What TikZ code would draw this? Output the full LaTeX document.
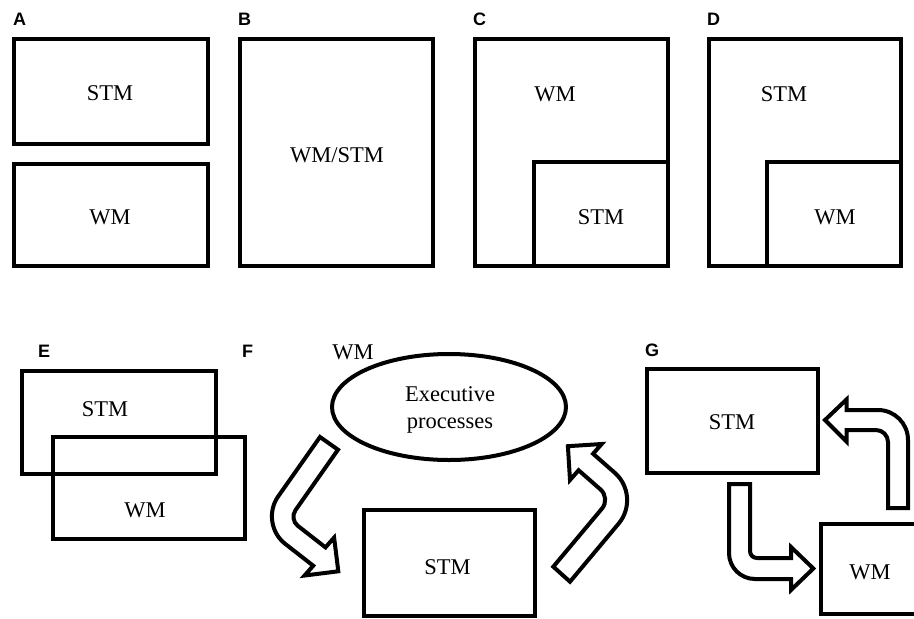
\documentclass[tikz,border=0pt]{standalone}
\usepackage{fontspec}
\setmainfont{Liberation Serif}
\newfontfamily\panelfont{Liberation Sans}
\usetikzlibrary{calc,shapes.geometric}
\begin{document}
\begin{tikzpicture}[x=1pt,y=-1pt,
  frame/.style={draw=black,line width=4pt},
  barrow/.style={draw=black,fill=white,line width=4pt,line join=miter,miter limit=10},
  lbl/.style={font=\fontsize{22.5}{26}\selectfont,inner sep=0pt},
  panel/.style={font=\panelfont\bfseries\fontsize{18}{20}\selectfont,anchor=base west,inner sep=0pt}]
\fill[white] (0,0) rectangle (914,619);
\useasboundingbox (0,0) rectangle (914,619);

% panel letters
\node[panel] (pA) at (13,25) {A};
\node[panel] (pB) at (238,25) {B};
\node[panel] (pC) at (473,25) {C};
\node[panel] (pD) at (707,25) {D};
\node[panel] (pE) at (38,357) {E};
\node[panel] (pF) at (242,357) {F};
\node[panel] (pG) at (645,356) {G};

% A
\draw[frame] (14,39) rectangle (208,144);
\draw[frame] (14,164) rectangle (208,266);
\node[lbl] (a1) at (110,93) {STM};
\node[lbl] (a2) at (110,217) {WM};

% B
\draw[frame] (240,39) rectangle (433,266);
\node[lbl] (b1) at (337,155) {WM/STM};

% C
\draw[frame] (475,39) rectangle (668,266);
\draw[frame] (534,266) -- (534,162) -- (668,162);
\node[lbl] (c1) at (555,94) {WM};
\node[lbl] (c2) at (601,217) {STM};

% D
\draw[frame] (709,39) rectangle (901,266);
\draw[frame] (767,266) -- (767,162) -- (901,162);
\node[lbl] (d1) at (784,94) {STM};
\node[lbl] (d2) at (835,217) {WM};

% E
\draw[frame] (22,371) rectangle (216,474);
\draw[frame] (53,437) rectangle (245,539);
\node[lbl] (e1) at (105,409) {STM};
\node[lbl] (e2) at (145,510) {WM};

% F
\node[lbl] (fwm) at (353,352) {WM};
\node[draw=black,line width=4pt,ellipse,minimum width=234pt,minimum height=106pt,inner sep=0pt] (exec) at (449,407) {};
\node[lbl,anchor=base] (f1) at (450,401.7) {Executive};
\node[lbl,anchor=base] (f2) at (450,428.3) {processes};
\draw[frame] (364,510) rectangle (535,616);
\node[lbl] (fstm) at (447.5,566.7) {STM};

% F left arrow
\coordinate (flTO) at (320,437);
\coordinate (flTI) at (338,449.7);
\coordinate (flO) at (259.1,523.5);
\coordinate (flOS) at (313.2,565.7);
\coordinate (flHO) at (304.6,575.5);
\coordinate (flTP) at (338.3,571.3);
\coordinate (flHI) at (334.1,537.6);
\coordinate (flIS) at (325.5,547.4);
\coordinate (flI) at (289.2,519.1);
\draw[barrow] (flTI) -- (flTO) -- ($(flO)!33pt!(flTO)$) .. controls ($(flO)!14.8pt!(flTO)$) and ($(flO)!14.8pt!(flOS)$) .. ($(flO)!33pt!(flOS)$) -- (flOS) -- (flHO) -- (flTP) -- (flHI) -- (flIS) -- ($(flI)!11pt!(flIS)$) .. controls ($(flI)!4.9pt!(flIS)$) and ($(flI)!4.9pt!(flTI)$) .. ($(flI)!11pt!(flTI)$) -- cycle;

% F right arrow
\coordinate (frTO) at (570,581.7);
\coordinate (frTI) at (553.3,566.7);
\coordinate (frO) at (641.5,496.3);
\coordinate (frOS) at (593.1,453.75);
\coordinate (frHO) at (601.7,444);
\coordinate (frTP) at (567.9,446.2);
\coordinate (frHI) at (570,480);
\coordinate (frIS) at (578.6,470.25);
\coordinate (frI) at (610.6,498.3);
\draw[barrow] (frTI) -- (frTO) -- ($(frO)!35.5pt!(frTO)$) .. controls ($(frO)!15.9pt!(frTO)$) and ($(frO)!15.9pt!(frOS)$) .. ($(frO)!35.5pt!(frOS)$) -- (frOS) -- (frHO) -- (frTP) -- (frHI) -- (frIS) -- ($(frI)!13.5pt!(frIS)$) .. controls ($(frI)!6pt!(frIS)$) and ($(frI)!6pt!(frTI)$) .. ($(frI)!13.5pt!(frTI)$) -- cycle;

% G
\draw[frame] (647,369) rectangle (818,473);
\node[lbl] (gstm) at (732,422.5) {STM};
\coordinate (gwTR) at (916,524);
\coordinate (gwTL) at (820.5,524);
\coordinate (gwBL) at (820.5,614);
\coordinate (gwBR) at (916,614);
\draw[frame] (gwTR) -- (gwTL) -- (gwBL) -- (gwBR);
\node[lbl] (gwm) at (870,572.5) {WM};

% G down arrow
\coordinate (gdTI) at (750,484);
\coordinate (gdTO) at (729,484);
\coordinate (gdO) at (729,579);
\coordinate (gdOS) at (791,579);
\coordinate (gdHO) at (791,590);
\coordinate (gdTP) at (813.3,568.5);
\coordinate (gdHI) at (791,547);
\coordinate (gdIS) at (791,558);
\coordinate (gdI) at (750,558);
\draw[barrow] (gdTI) -- (gdTO) -- ($(gdO)!26pt!(gdTO)$) .. controls ($(gdO)!11.6pt!(gdTO)$) and ($(gdO)!11.6pt!(gdOS)$) .. ($(gdO)!26pt!(gdOS)$) -- (gdOS) -- (gdHO) -- (gdTP) -- (gdHI) -- (gdIS) -- ($(gdI)!7pt!(gdIS)$) .. controls ($(gdI)!3.1pt!(gdIS)$) and ($(gdI)!3.1pt!(gdTI)$) .. ($(gdI)!7pt!(gdTI)$) -- cycle;

% G up arrow
\coordinate (guTI) at (888,508);
\coordinate (guTO) at (908,508);
\coordinate (guO) at (908,410);
\coordinate (guOS) at (846.7,410);
\coordinate (guHO) at (846.7,399.3);
\coordinate (guTP) at (825,420);
\coordinate (guHI) at (846.7,441.7);
\coordinate (guIS) at (846.7,430);
\coordinate (guI) at (888,430);
\draw[barrow] (guTI) -- (guTO) -- ($(guO)!30pt!(guTO)$) .. controls ($(guO)!13.4pt!(guTO)$) and ($(guO)!13.4pt!(guOS)$) .. ($(guO)!30pt!(guOS)$) -- (guOS) -- (guHO) -- (guTP) -- (guHI) -- (guIS) -- ($(guI)!12pt!(guIS)$) .. controls ($(guI)!5.4pt!(guIS)$) and ($(guI)!5.4pt!(guTI)$) .. ($(guI)!12pt!(guTI)$) -- cycle;
\end{tikzpicture}
\end{document}
